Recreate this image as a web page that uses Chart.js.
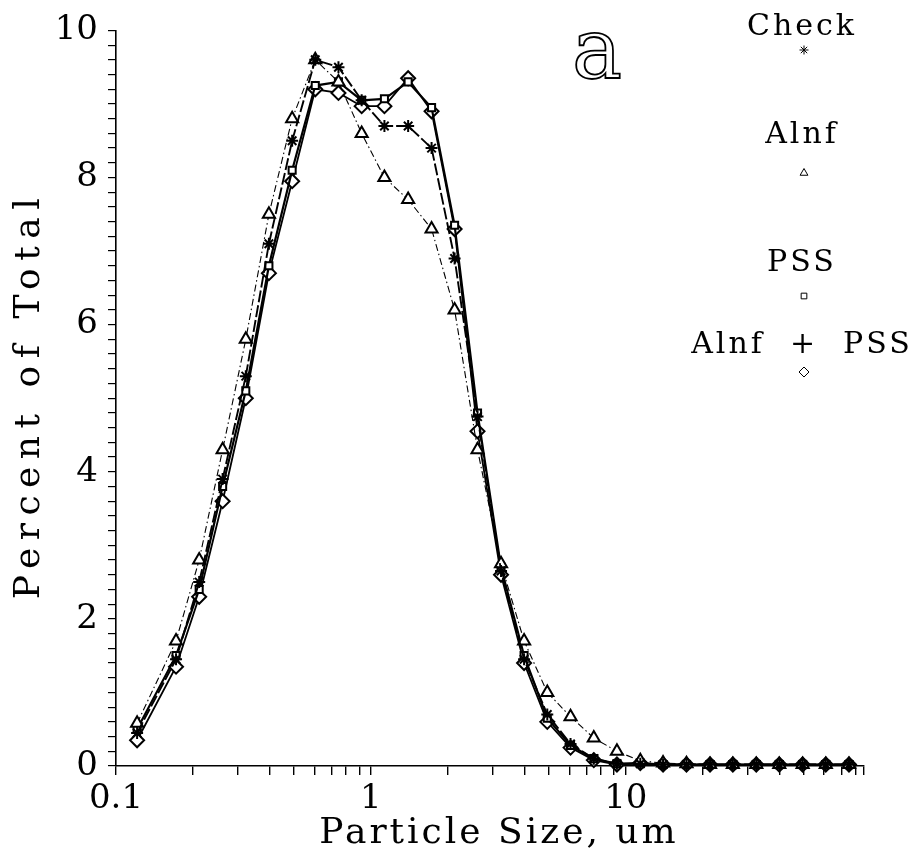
<!DOCTYPE html>
<html>
<head>
<meta charset="utf-8">
<script src="https://cdn.jsdelivr.net/npm/chart.js@4"></script>
<style>
html, body { margin: 0; padding: 0; background: #fff; }
</style>
</head>
<body>
<canvas id="size-chart" width="911" height="856"></canvas>
<script>
// particle size channels, um
var sizes = [0.121, 0.172, 0.212, 0.262, 0.323, 0.398, 0.491, 0.605, 0.746, 0.920,
    1.13, 1.40, 1.73, 2.13, 2.62, 3.24, 3.99, 4.92, 6.07, 7.49,
    9.23, 11.4, 14.0, 17.3, 21.4, 26.3, 32.5, 40.0, 49.4, 60.9, 75.1];

// percent of total in each channel
var check = [0.45, 1.45, 2.5, 3.9, 5.3, 7.1, 8.5, 9.6, 9.5, 9.05,
    8.7, 8.7, 8.4, 6.9, 4.75, 2.65, 1.45, 0.7, 0.3, 0.1,
    0.03, 0.03, 0.02, 0.02, 0.02, 0.02, 0.02, 0.02, 0.02, 0.02, 0.02];
var alnf = [0.58, 1.7, 2.8, 4.3, 5.8, 7.5, 8.8, 9.6, 9.3, 8.6,
    8.0, 7.7, 7.3, 6.2, 4.3, 2.75, 1.7, 1.0, 0.67, 0.38,
    0.2, 0.07, 0.04, 0.03, 0.02, 0.02, 0.02, 0.02, 0.02, 0.02, 0.02];
var pss = [0.5, 1.5, 2.4, 3.8, 5.1, 6.8, 8.1, 9.25, 9.3, 9.05,
    9.07, 9.3, 8.95, 7.35, 4.8, 2.7, 1.5, 0.65, 0.28, 0.1,
    0.03, 0.04, 0.02, 0.02, 0.02, 0.02, 0.02, 0.02, 0.02, 0.02, 0.02];
var alnfPss = [0.35, 1.35, 2.3, 3.6, 5.0, 6.7, 7.95, 9.2, 9.15, 8.97,
    8.97, 9.35, 8.9, 7.3, 4.55, 2.6, 1.4, 0.6, 0.25, 0.08,
    0.02, 0.04, 0.02, 0.02, 0.02, 0.02, 0.02, 0.02, 0.02, 0.02, 0.02];

var xLabels = [0.1, 1, 10];
var xTicks = [0.1, 0.2, 0.3, 0.4, 0.5, 0.6, 0.7, 0.8, 0.9,
    1, 2, 3, 4, 5, 6, 7, 8, 9,
    10, 20, 30, 40, 50, 60, 70, 80, 86];
var yLabels = [0, 2, 4, 6, 8, 10];
var yTicks = [];
for (var t = 0; t <= 50; t++) {
    yTicks.push(Math.round(t * 2) / 10);
}

var serif = '"DejaVu Serif", "Liberation Serif", serif';

function points(values) {
    return sizes.map(function (x, i) {
        return {x: x, y: values[i]};
    });
}

// axis titles, legend and panel letter
var annotate = {
    id: 'annotate',
    afterDraw: function (chart) {
        var ctx = chart.ctx;
        ctx.save();
        ctx.fillStyle = '#000';
        ctx.strokeStyle = '#000';
        ctx.textAlign = 'center';
        ctx.textBaseline = 'middle';

        ctx.font = '36px ' + serif;
        ctx.letterSpacing = '3px';
        ctx.fillText('Particle Size, um', 499, 834);

        ctx.save();
        ctx.translate(30, 395);
        ctx.rotate(-Math.PI / 2);
        ctx.letterSpacing = '7.5px';
        ctx.fillText('Percent of Total', 0, 0);
        ctx.restore();

        ctx.letterSpacing = '0px';
        ctx.font = '84px ' + serif;
        ctx.lineWidth = 1.8;
        ctx.strokeText('a', 597, 56);

        var entries = [
            {text: 'Check', ty: 27, my: 50, style: 'star', r: 4.5, fill: '#000'},
            {text: 'Alnf', ty: 135, my: 173, style: 'triangle', r: 4.5, fill: '#fff'},
            {text: 'PSS', ty: 263, my: 296, style: 'rect', r: 4, fill: '#fff'},
            {text: 'Alnf  +  PSS', ty: 345, my: 372, style: 'rectRot', r: 5, fill: '#fff'}
        ];
        ctx.font = '30px ' + serif;
        ctx.letterSpacing = '3px';
        entries.forEach(function (e) {
            ctx.fillStyle = '#000';
            ctx.fillText(e.text, 802, e.ty);
            ctx.fillStyle = e.fill;
            ctx.lineWidth = 1;
            Chart.helpers.drawPoint(ctx, {pointStyle: e.style, radius: e.r, borderWidth: 1, rotation: 0}, 804, e.my);
        });
        ctx.restore();
    }
};

var ctx = document.getElementById('size-chart');
var sizeChart = new Chart(ctx, {
    type: 'line',
    data: {
        datasets: [{
            label: 'Check',
            data: points(check),
            borderColor: '#000',
            borderWidth: 1.9,
            borderDash: [12, 3],
            pointStyle: 'star',
            pointRadius: 6,
            pointBorderWidth: 2,
            pointBorderColor: '#000',
            pointBackgroundColor: '#000'
        },
            {
                label: 'Alnf',
                data: points(alnf),
                borderColor: '#000',
                borderWidth: 1.1,
                borderDash: [7, 3, 1.5, 3],
                pointStyle: 'triangle',
                pointRadius: 7,
                pointBorderWidth: 2,
                pointBorderColor: '#000',
                pointBackgroundColor: '#fff'
            },
            {
                label: 'PSS',
                data: points(pss),
                borderColor: '#000',
                borderWidth: 2.2,
                pointStyle: 'rect',
                pointRadius: 5,
                pointBorderWidth: 2,
                pointBorderColor: '#000',
                pointBackgroundColor: '#fff'
            },
            {
                label: 'Alnf + PSS',
                data: points(alnfPss),
                borderColor: '#000',
                borderWidth: 1.8,
                pointStyle: 'rectRot',
                pointRadius: 7,
                pointBorderWidth: 2,
                pointBorderColor: '#000',
                pointBackgroundColor: '#fff'
            }
        ]
    },
    options: {
        responsive: false,
        devicePixelRatio: 1,
        animation: false,
        clip: false,
        layout: {padding: {top: 21, right: 47, left: 0, bottom: 0}},
        plugins: {
            legend: {display: false},
            tooltip: {enabled: false}
        },
        elements: {line: {tension: 0, fill: false}},
        scales: {
            x: {
                type: 'logarithmic',
                min: 0.1,
                max: 86,
                afterBuildTicks: function (scale) {
                    scale.ticks = xTicks.map(function (v) { return {value: v}; });
                },
                afterFit: function (scale) { scale.height = 90; },
                ticks: {
                    autoSkip: false,
                    maxRotation: 0,
                    minRotation: 0,
                    padding: 4,
                    color: '#000',
                    font: {family: serif, size: 34},
                    callback: function (value) {
                        return xLabels.indexOf(value) >= 0 ? String(value) : '';
                    }
                },
                grid: {drawOnChartArea: false, drawTicks: true, tickLength: 9, color: '#000', lineWidth: 1.4},
                border: {display: true, color: '#000', width: 1.6, dash: [12, 2]}
            },
            y: {
                type: 'linear',
                min: 0,
                max: 10,
                afterBuildTicks: function (scale) {
                    scale.ticks = yTicks.map(function (v) { return {value: v}; });
                },
                afterFit: function (scale) { scale.width = 116; },
                ticks: {
                    autoSkip: false,
                    padding: 10,
                    color: '#000',
                    font: {family: serif, size: 34},
                    callback: function (value) {
                        return yLabels.indexOf(value) >= 0 ? String(value) : '';
                    }
                },
                grid: {drawOnChartArea: false, drawTicks: true, tickLength: 8, color: '#000', lineWidth: 1.2},
                border: {display: true, color: '#000', width: 1.6, dash: [12, 2]}
            }
        }
    },
    plugins: [annotate]
});
</script>
</body>
</html>
